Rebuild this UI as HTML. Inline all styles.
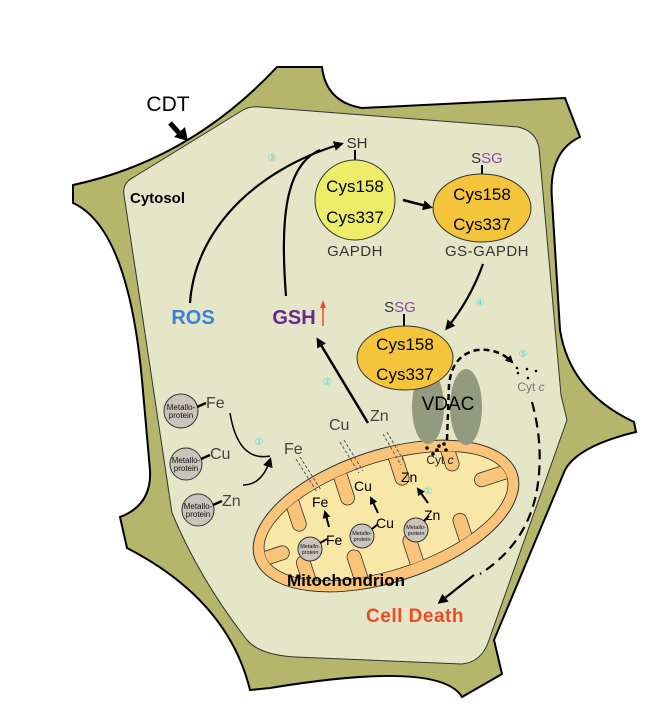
<!DOCTYPE html>
<html><head><meta charset="utf-8"><style>
html,body{margin:0;padding:0;background:#fff;}
svg{display:block;}
text{font-family:"Liberation Sans",Arial,sans-serif;}
</style></head><body>
<svg width="655" height="718" viewBox="0 0 655 718" xmlns="http://www.w3.org/2000/svg">
<defs>
<marker id="ah" markerWidth="10" markerHeight="10" refX="7" refY="5" orient="auto" markerUnits="userSpaceOnUse">
<path d="M0,0 L10,5 L0,10 Z" fill="#000"/>
</marker>
<marker id="ahs" markerWidth="8" markerHeight="8" refX="6" refY="4" orient="auto" markerUnits="userSpaceOnUse">
<path d="M0,0 L8,4 L0,8 Z" fill="#000"/>
</marker>
<clipPath id="inner"><ellipse cx="0" cy="0" rx="127" ry="54"/></clipPath>
</defs>
<rect width="655" height="718" fill="#fff"/>
<path d="M73,185 Q190,160 277,67 L322,67 Q326,102 362,108 L565,98 L580,137 Q548,152 552,200 L560,330 Q570,392 634,422 L636,432 Q578,446 565,470 L494,640 L502,674 L462,697 Q440,660 270,688 L250,690 Q228,600 127,548 L120,517 Q152,505 150,470 L142,380 Q128,228 73,203 Z" fill="#b5b56c" stroke="#000" stroke-width="2"/>
<path d="M124,195 Q122,183 134,177 L243,110 Q250,106 260,107 L518,127 Q536,131 539,148 L561,395 L567,420 L489,640 Q482,662 462,664 L295,657 Q260,655 247,640 Q200,580 172,513 L140,300 Z" fill="#e5e6c8" stroke="#333" stroke-width="1"/>

<text x="168" y="111" font-size="21" text-anchor="middle">CDT</text>
<line x1="170" y1="123" x2="180" y2="134" stroke="#000" stroke-width="5"/>
<path d="M174,137 L188,141 L185,127 Z" fill="#000"/>
<text x="130" y="203" font-size="15" font-weight="bold">Cytosol</text>

<path d="M190,303 C195,230 255,170 341,144" fill="none" stroke="#000" stroke-width="2.2" marker-end="url(#ah)"/>
<path d="M286,296 C280,220 285,165 320,150" fill="none" stroke="#000" stroke-width="2.2"/>
<text x="272" y="161" font-size="10" fill="#4dd" text-anchor="middle">③</text>
<text x="193" y="324" font-size="20" font-weight="bold" fill="#3a80d8" text-anchor="middle">ROS</text>
<text x="294" y="324" font-size="20" font-weight="bold" fill="#6a2590" text-anchor="middle">GSH</text>
<line x1="323" y1="326" x2="323" y2="306" stroke="#f04a22" stroke-width="1.5"/>
<path d="M320,308 L323,300 L326,308 Z" fill="#f04a22"/>

<text x="357" y="148" font-size="15" fill="#333" text-anchor="middle">SH</text>
<line x1="355" y1="150" x2="355" y2="160" stroke="#000" stroke-width="2"/>
<circle cx="355" cy="200" r="40" fill="#eded6a" stroke="#333" stroke-width="1"/>
<text x="355" y="192" font-size="17" text-anchor="middle">Cys158</text>
<text x="355" y="223" font-size="17" text-anchor="middle">Cys337</text>
<text x="355" y="256" font-size="15" fill="#333" text-anchor="middle" letter-spacing="0.5">GAPDH</text>
<line x1="403" y1="200" x2="430" y2="207" stroke="#000" stroke-width="2.5" marker-end="url(#ah)"/>

<text x="487" y="163" font-size="15" text-anchor="middle"><tspan fill="#333">S</tspan><tspan fill="#8a4aa8">SG</tspan></text>
<line x1="482" y1="165" x2="482" y2="174" stroke="#000" stroke-width="2"/>
<ellipse cx="482" cy="208" rx="49" ry="34" fill="#f4c53a" stroke="#333" stroke-width="1"/>
<text x="482" y="200" font-size="17" text-anchor="middle">Cys158</text>
<text x="482" y="230" font-size="17" text-anchor="middle">Cys337</text>
<text x="487" y="256" font-size="15" fill="#333" text-anchor="middle" letter-spacing="0.5">GS-GAPDH</text>
<path d="M483,264 Q470,300 447,328" fill="none" stroke="#000" stroke-width="2.2" marker-end="url(#ah)"/>
<text x="480" y="306" font-size="10" fill="#4dd" text-anchor="middle">④</text>

<!-- mitochondrion -->
<g transform="translate(386,516) rotate(-18)">
<ellipse cx="0" cy="0" rx="138" ry="66" fill="#f9c47a" stroke="#333" stroke-width="1"/>
<ellipse cx="0" cy="0" rx="127" ry="54" fill="#f9e7a8" stroke="#333" stroke-width="0.8"/>
<g clip-path="url(#inner)" fill="#f9c47a" stroke="#333" stroke-width="0.8">
<rect x="-92" y="-70" width="14" height="58" rx="7"/>
<rect x="-38" y="-80" width="14" height="58" rx="7"/>
<rect x="20" y="-80" width="14" height="56" rx="7"/>
<rect x="72" y="-72" width="14" height="50" rx="7"/>
<rect x="-100" y="12" width="14" height="60" rx="7"/>
<rect x="-50" y="22" width="14" height="60" rx="7"/>
<rect x="8" y="24" width="14" height="60" rx="7"/>
<rect x="62" y="20" width="14" height="60" rx="7"/>
<rect x="95" y="-12" width="50" height="14" rx="7"/>
<rect x="-145" y="-4" width="42" height="14" rx="7"/>
</g>
</g>
<text x="346" y="586" font-size="17" font-weight="bold" text-anchor="middle">Mitochondrion</text>

<ellipse cx="428" cy="407" rx="16" ry="37" fill="#949a7e"/>
<ellipse cx="466" cy="407" rx="16" ry="38" fill="#949a7e"/>
<text x="400" y="312" font-size="15" text-anchor="middle"><tspan fill="#333">S</tspan><tspan fill="#8a4aa8">SG</tspan></text>
<line x1="404" y1="314" x2="404" y2="326" stroke="#000" stroke-width="2"/>
<ellipse cx="405" cy="358" rx="48" ry="32" fill="#f4c53a" stroke="#333" stroke-width="1"/>
<text x="405" y="350" font-size="17" text-anchor="middle">Cys158</text>
<text x="405" y="380" font-size="17" text-anchor="middle">Cys337</text>
<text x="448" y="410" font-size="19" text-anchor="middle">VDAC</text>
<path d="M447,440 L449,385 Q452,355 477,350 Q498,348 512,362" fill="none" stroke="#000" stroke-width="2.5" stroke-dasharray="6,4" marker-end="url(#ahs)"/>
<text x="523" y="357" font-size="10" fill="#4dd" text-anchor="middle">⑤</text>
<g fill="#000">
<circle cx="517" cy="368" r="1.3"/><circle cx="527" cy="369" r="1.3"/><circle cx="536" cy="371" r="1.3"/><circle cx="518" cy="373" r="1.3"/><circle cx="528" cy="378" r="1.3"/>
<circle cx="427" cy="448" r="1.8"/><circle cx="437" cy="450" r="1.8"/><circle cx="439" cy="446" r="1.8"/><circle cx="444" cy="444" r="1.8"/><circle cx="446" cy="450" r="1.8"/><circle cx="433" cy="454" r="1.8"/>
</g>
<text x="531" y="391" font-size="12" fill="#777" text-anchor="middle">Cyt <tspan font-style="italic">c</tspan></text>
<text x="440" y="464" font-size="12" fill="#222" text-anchor="middle">Cyt <tspan font-style="italic">c</tspan></text>
<path d="M532,402 Q545,450 536,495 Q525,545 480,574" fill="none" stroke="#000" stroke-width="2.2" stroke-dasharray="10,6"/>
<line x1="474" y1="575" x2="440" y2="602" stroke="#000" stroke-width="2.2" marker-end="url(#ah)"/>
<text x="415" y="622" font-size="19" font-weight="bold" fill="#f04a22" text-anchor="middle" letter-spacing="0.5">Cell Death</text>

<line x1="368" y1="423" x2="318" y2="340" stroke="#000" stroke-width="2.5" marker-end="url(#ah)"/>
<text x="327" y="385" font-size="10" fill="#4dd" text-anchor="middle">②</text>

<g stroke="#333" stroke-width="1" fill="#c9c4bc">
<circle cx="181" cy="411" r="17"/>
<circle cx="186" cy="464" r="16"/>
<circle cx="198" cy="510" r="16"/>
</g>
<g font-size="8" text-anchor="middle" fill="#111">
<text x="181" y="410">Metallo-</text><text x="181" y="418">protein</text>
<text x="186" y="463">Metallo-</text><text x="186" y="471">protein</text>
<text x="198" y="509">Metallo-</text><text x="198" y="517">protein</text>
</g>
<g stroke="#000" stroke-width="2.5">
<line x1="197" y1="407" x2="206" y2="403"/>
<line x1="201" y1="459" x2="210" y2="455"/>
<line x1="213" y1="505" x2="222" y2="501"/>
</g>
<g font-size="16" fill="#444">
<text x="206" y="408">Fe</text>
<text x="210" y="459">Cu</text>
<text x="222" y="506">Zn</text>
</g>
<path d="M230,413 Q238,462 270,456" fill="none" stroke="#000" stroke-width="1.5"/>
<path d="M243,485 Q262,485 270,460" fill="none" stroke="#000" stroke-width="1.5" marker-end="url(#ah)"/>
<text x="259" y="445" font-size="10" fill="#4dd" text-anchor="middle">①</text>

<g font-size="16" fill="#444">
<text x="284" y="454">Fe</text>
<text x="329" y="430">Cu</text>
<text x="370" y="421">Zn</text>
</g>
<g stroke="#555" stroke-width="1" stroke-dasharray="3,2" fill="none">
<line x1="296" y1="459" x2="317" y2="492"/><line x1="300" y1="457" x2="321" y2="490"/>
<line x1="340" y1="442" x2="359" y2="473"/><line x1="344" y1="440" x2="363" y2="471"/>
<line x1="383" y1="434" x2="401" y2="465"/><line x1="387" y1="432" x2="405" y2="463"/>
</g>
<g font-size="14" fill="#000">
<text x="312" y="507">Fe</text>
<text x="354" y="491">Cu</text>
<text x="401" y="482">Zn</text>
<text x="326" y="545">Fe</text>
<text x="376" y="528">Cu</text>
<text x="424" y="520">Zn</text>
</g>
<g stroke="#000" stroke-width="2">
<line x1="329" y1="527" x2="325" y2="512" marker-end="url(#ahs)"/>
<line x1="378" y1="513" x2="371" y2="498" marker-end="url(#ahs)"/>
<line x1="428" y1="503" x2="418" y2="489" marker-end="url(#ahs)"/>
</g>
<text x="428" y="494" font-size="10" fill="#4dd" text-anchor="middle">①</text>
<g stroke="#333" stroke-width="1" fill="#c9c4bc">
<circle cx="310" cy="549" r="12"/>
<circle cx="362" cy="536" r="12"/>
<circle cx="416" cy="530" r="12"/>
</g>
<g font-size="5.5" text-anchor="middle" fill="#111">
<text x="310" y="548">Metallo-</text><text x="310" y="554">protein</text>
<text x="362" y="535">Metallo-</text><text x="362" y="541">protein</text>
<text x="416" y="529">Metallo-</text><text x="416" y="535">protein</text>
</g>
<g stroke="#000" stroke-width="2">
<line x1="320" y1="543" x2="327" y2="539"/>
<line x1="372" y1="529" x2="378" y2="524"/>
<line x1="424" y1="521" x2="429" y2="516"/>
</g>
</svg>
</body></html>
